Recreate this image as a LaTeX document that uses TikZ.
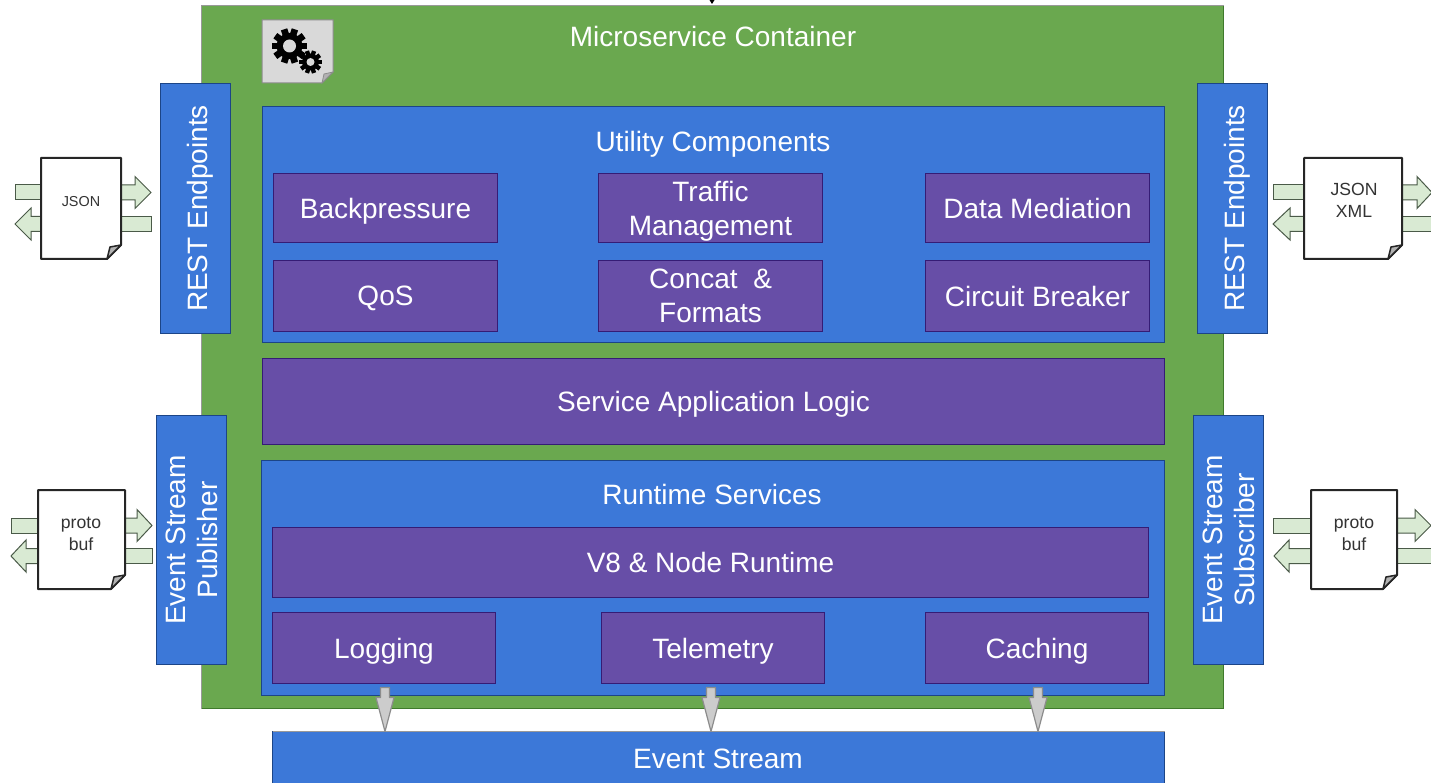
\documentclass[tikz,border=0pt]{standalone}
\usepackage{fontspec}
\setmainfont{Liberation Sans}
\usetikzlibrary{calc}
\definecolor{cgreen}{HTML}{6AA84F}
\definecolor{cgreenb}{HTML}{3F7A2C}
\definecolor{cblue}{HTML}{3C78D8}
\definecolor{cblueb}{HTML}{1C4587}
\definecolor{cpurple}{HTML}{674EA7}
\definecolor{cpurpleb}{HTML}{351C75}
\definecolor{cnote}{HTML}{D9D9D9}
\definecolor{carrow}{HTML}{D9EAD3}
\definecolor{carrowb}{HTML}{4A5A48}
\tikzset{
  every node/.style={inner sep=0pt,outer sep=0pt},
  whitetxt/.style={text=white,align=center,font=\fontsize{28}{34}\selectfont,text depth=0pt},
  container/.style={draw=cgreenb,fill=cgreen,line width=1pt},
  bluebox/.style={draw=cblueb,fill=cblue,line width=1pt,whitetxt},
  purplebox/.style={draw=cpurpleb,fill=cpurple,line width=1pt,whitetxt},
  title/.style={whitetxt},
  doctext/.style={text=black!80,align=center,font=\fontsize{17.6}{22}\selectfont},
  docshape/.style={draw=black!85,fill=white,line width=2pt,line join=round},
  docfold/.style={draw=black!85,fill=black!30,line width=1.5pt,line join=round},
  blockarrow/.style={draw=carrowb,fill=carrow,line width=1pt},
  greyarrow/.style={draw=black!45,fill=black!20,line width=1.2pt},
  greyedge/.style={draw=black!40,line width=1pt},
}
% \bx{name}{style}{x0}{y0}{x1}{y1}{text}
\newcommand{\bx}[7]{%
  \pgfmathsetmacro{\bxw}{#5-#3-1}\pgfmathsetmacro{\bxh}{#6-#4-1}%
  \node[#2,minimum width=\bxw pt,minimum height=\bxh pt,anchor=center] (#1) at ({(#3+#5)/2},{(#4+#6)/2}) {#7};}
% rotated box
\newcommand{\rbx}[7]{%
  \pgfmathsetmacro{\bxw}{#6-#4-1}\pgfmathsetmacro{\bxh}{#5-#3-1}%
  \node[#2,rotate=90,minimum width=\bxw pt,minimum height=\bxh pt,anchor=center] (#1) at ({(#3+#5)/2},{(#4+#6)/2}) {#7};}
% right-pointing arrow: tail, head base, tip, centre y
\newcommand{\blockarr}[4]{%
  \draw[blockarrow] (#1,#4-7.5) -- (#2,#4-7.5) -- (#2,#4-16) -- (#3,#4) -- (#2,#4+16) -- (#2,#4+7.5) -- (#1,#4+7.5) -- cycle;}
\newcommand{\tailrect}[3]{%
  \draw[blockarrow] (#1,#3-7.5) rectangle (#2,#3+7.5);}
% document
\newcommand{\docu}[5]{%
  \draw[docshape] (#2,#3) -- (#4,#3) -- (#4,#5-14) -- (#4-14,#5) -- (#2,#5) -- cycle;
  \draw[docfold] (#4,#5-14) -- (#4-14,#5) -- (#4-11,#5-12) -- cycle;
  \coordinate (#1) at ({(#2+#4)/2},{(#3+#5)/2});}
% grey down arrow from node to node
\newcommand{\downarr}[3]{%
  \coordinate (da) at ($(#1.south)+(#3,4)$);
  \coordinate (db) at (da |- #2.north);
  \draw[greyarrow,line join=round] ($(da)+(-4.5,0)$) -- ($(da)+(4.5,0)$) -- ($(da)+(4.5,10)$) -- ($(da)+(9,10)$) -- (db) -- ($(da)+(-9,10)$) -- ($(da)+(-4.5,10)$) -- cycle;}
% gear
\newcommand{\gear}[5]{% cx cy outer body hole
  \fill[black] (#1,#2) circle[radius=#4];
  \foreach \a in {0,36,...,324}{
    \fill[black,rotate around={\a+18:(#1,#2)}] ({#1-#3*0.19},#2) rectangle ({#1+#3*0.19},#2-#3);}
  \fill[cnote] (#1,#2) circle[radius=#5];}
\begin{document}
\begin{tikzpicture}[x=1pt,y=-1pt]
\useasboundingbox (0,0) rectangle (1431,783);
% container
\bx{container}{container}{201}{5}{1224}{709}{}
\draw[greyedge] (container.south west) -- (container.north west) -- (container.north east);
\node[title] (containertitle) at (713,36) {Microservice Container};
% top tip
\fill[black] (709.5,0) -- (714.5,0) -- (712,4) -- cycle;
% gear note
\draw[draw=black!45,fill=cnote,line width=1pt] (262,20) -- (333,20) -- (333,72) -- (322,83) -- (262,83) -- cycle;
\draw[draw=black!45,fill=black!30,line width=.8pt] (333,72) -- (322,83) -- (324,74) -- cycle;
\gear{289.5}{46}{17.5}{13}{6.5}
\gear{310.5}{62}{11.5}{8.5}{4}
% utility
\bx{utility}{bluebox}{262}{106}{1165}{343}{}
\node[title] (utilitytitle) at (713,141) {Utility Components};
\bx{backpressure}{purplebox}{273}{173}{498}{243}{Backpressure}
\bx{traffic}{purplebox}{598}{173}{823}{243}{Traffic\\Management}
\bx{datamed}{purplebox}{925}{173}{1150}{243}{Data Mediation}
\bx{qos}{purplebox}{273}{260}{498}{332}{QoS}
\bx{concat}{purplebox}{598}{260}{823}{332}{Concat~~\&\\Formats}
\bx{circuit}{purplebox}{925}{260}{1150}{332}{Circuit Breaker}
% service
\bx{service}{purplebox}{262}{358}{1165}{445}{Service Application Logic}
% runtime
\bx{runtime}{bluebox}{261}{460}{1165}{696}{}
\node[title] (runtimetitle) at (712,494.5) {Runtime Services};
\bx{veight}{purplebox}{272}{527}{1149}{598}{V8 \& Node Runtime}
\bx{logging}{purplebox}{272}{612}{496}{684}{Logging}
\bx{telemetry}{purplebox}{601}{612}{825}{684}{Telemetry}
\bx{caching}{purplebox}{925}{612}{1149}{684}{Caching}
% event stream
\bx{eventstream}{bluebox}{272}{731}{1165}{795}{}
\draw[greyedge] (eventstream.north west) -- (eventstream.north east);
\node[title] (eventstreamtitle) at (718,759) {Event Stream};
% side boxes
\rbx{restl}{bluebox}{160}{83}{231}{334}{\raisebox{-4pt}{REST Endpoints}}
\rbx{restr}{bluebox}{1197}{83}{1268}{334}{\raisebox{-4pt}{REST Endpoints}}
\rbx{pub}{bluebox}{156}{415}{227}{665}{Event Stream\\[-2pt]Publisher}
\rbx{sub}{bluebox}{1193}{415}{1264}{665}{Event Stream\\[-2pt]Subscriber}
% grey arrows
\downarr{logging}{eventstream}{1}
\downarr{telemetry}{eventstream}{-2}
\downarr{caching}{eventstream}{1}
% JSON doc left
\tailrect{15}{50}{192.5}
\blockarr{110}{135}{151}{192.5}
\blockarr{50}{31}{15}{224}
\tailrect{110}{151}{224}
\docu{docjson}{41}{158}{121}{259}{}
\node[doctext,font=\fontsize{14.4}{18}\selectfont] (jsonl) at (81,202) {JSON};
% JSON doc right
\tailrect{1273}{1320}{192.5}
\blockarr{1390}{1417}{1432}{192.5}
\blockarr{1320}{1290}{1273}{224}
\tailrect{1390}{1440}{224}
\docu{docjsonr}{1304}{158}{1402}{259}{}
\node[doctext] (jsonr) at (1354,200.5) {JSON\\XML};
% proto left
\tailrect{11}{50}{525.5}
\blockarr{110}{137}{152}{525.5}
\blockarr{50}{26}{11}{556}
\tailrect{110}{152}{556}
\docu{docprotol}{38}{490}{125}{589}{}
\node[doctext] (protol) at (81,534) {proto\\buf};
% proto right
\tailrect{1273}{1330}{525.5}
\blockarr{1380}{1415}{1431}{525.5}
\blockarr{1330}{1289}{1274}{556}
\tailrect{1380}{1440}{556}
\docu{docprotor}{1311}{490}{1397}{589}{}
\node[doctext] (protor) at (1354,534) {proto\\buf};
\end{tikzpicture}
\end{document}
